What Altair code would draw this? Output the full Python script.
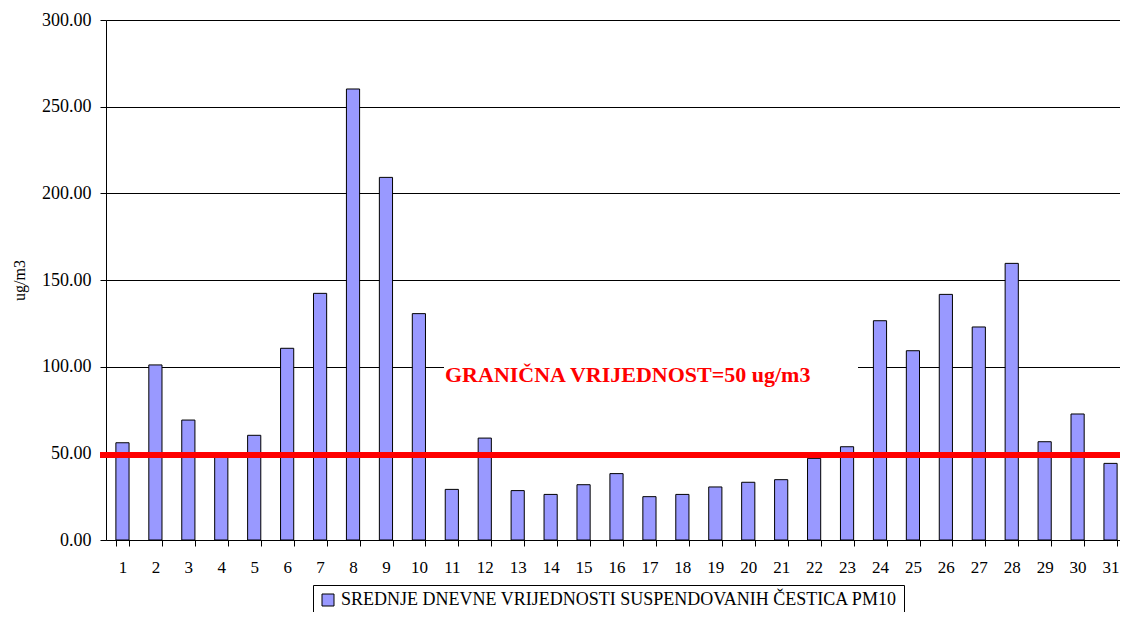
import altair as alt
import pandas as pd

days = [str(i) for i in range(1, 32)]
values = [56.1, 101.0, 69.2, 49.0, 60.4, 110.6, 142.3, 260.2, 209.2, 130.6,
          29.2, 58.8, 28.5, 26.3, 31.9, 38.3, 25.0, 26.3, 30.6, 33.3,
          34.8, 47.1, 53.8, 126.5, 109.2, 141.7, 122.9, 159.6, 56.7, 72.7, 44.2]
series_name = "SREDNJE DNEVNE VRIJEDNOSTI SUSPENDOVANIH ČESTICA PM10"
limit_value = [49]
limit_label = ["GRANIČNA VRIJEDNOST=50 ug/m3"]
y_ticks = [0, 50, 100, 150, 200, 250, 300]

df = pd.DataFrame({"day": days, "value": values, "series": [series_name] * len(days)})
df_limit = pd.DataFrame({"limit": limit_value})
df_label = pd.DataFrame({"label": limit_label})

W = 1021
H = 520
FONT = "'Liberation Serif', 'Times New Roman', serif"

bars = alt.Chart(df).mark_bar(stroke="black", strokeWidth=1, opacity=1).encode(
    x=alt.X(
        "day:O", sort=days,
        scale=alt.Scale(paddingInner=0.6, paddingOuter=0.3),
        axis=alt.Axis(title=None, labelAngle=0, tickBand="extent", tickSize=6,
                      labelPadding=13, labelFontSize=17, labelFont=FONT,
                      labelColor="black", domainColor="black", tickColor="black"),
    ),
    y=alt.Y(
        "value:Q",
        scale=alt.Scale(domain=[0, 300], nice=False),
        axis=alt.Axis(values=y_ticks, format=".2f", title="ug/m3", grid=True,
                      gridColor="black", gridOpacity=1, gridWidth=1,
                      tickSize=6, labelPadding=9, labelFontSize=18, labelFont=FONT,
                      labelColor="black", domainColor="black", tickColor="black",
                      titleFont=FONT, titleFontSize=16, titleFontWeight="normal",
                      titleColor="black", titlePadding=14),
    ),
    color=alt.Color(
        "series:N",
        scale=alt.Scale(range=["#9999FF"]),
        legend=alt.Legend(title=None, orient="none", legendX=207, legendY=565,
                          strokeColor="black", padding=6, symbolType="square",
                          symbolSize=144, symbolStrokeColor="black",
                          symbolStrokeWidth=1, symbolOpacity=1,
                          labelFontSize=18, labelFont=FONT, labelColor="black",
                          labelOffset=4, labelLimit=0),
    ),
)

rule = alt.Chart(df_limit).mark_rule(color="red", strokeWidth=6).encode(
    y="limit:Q", x=alt.value(-6), x2=alt.value(W)
)

box = alt.Chart(df_label).mark_rect(color="white").encode(
    x=alt.value(338), x2=alt.value(752), y=alt.value(336), y2=alt.value(374)
)

text = alt.Chart(df_label).mark_text(
    font=FONT, fontSize=22, fontWeight="bold", color="red",
    align="left", baseline="middle"
).encode(x=alt.value(339), y=alt.value(355), text="label:N")

chart = alt.layer(bars, rule, box, text).properties(
    width=W, height=H,
    autosize=alt.AutoSizeParams(type="none"),
    padding={"left": 98, "top": 12, "right": -7, "bottom": 72},
).configure_view(strokeWidth=0)

chart.save("out.html", embed_options={"renderer": "svg", "actions": False})
